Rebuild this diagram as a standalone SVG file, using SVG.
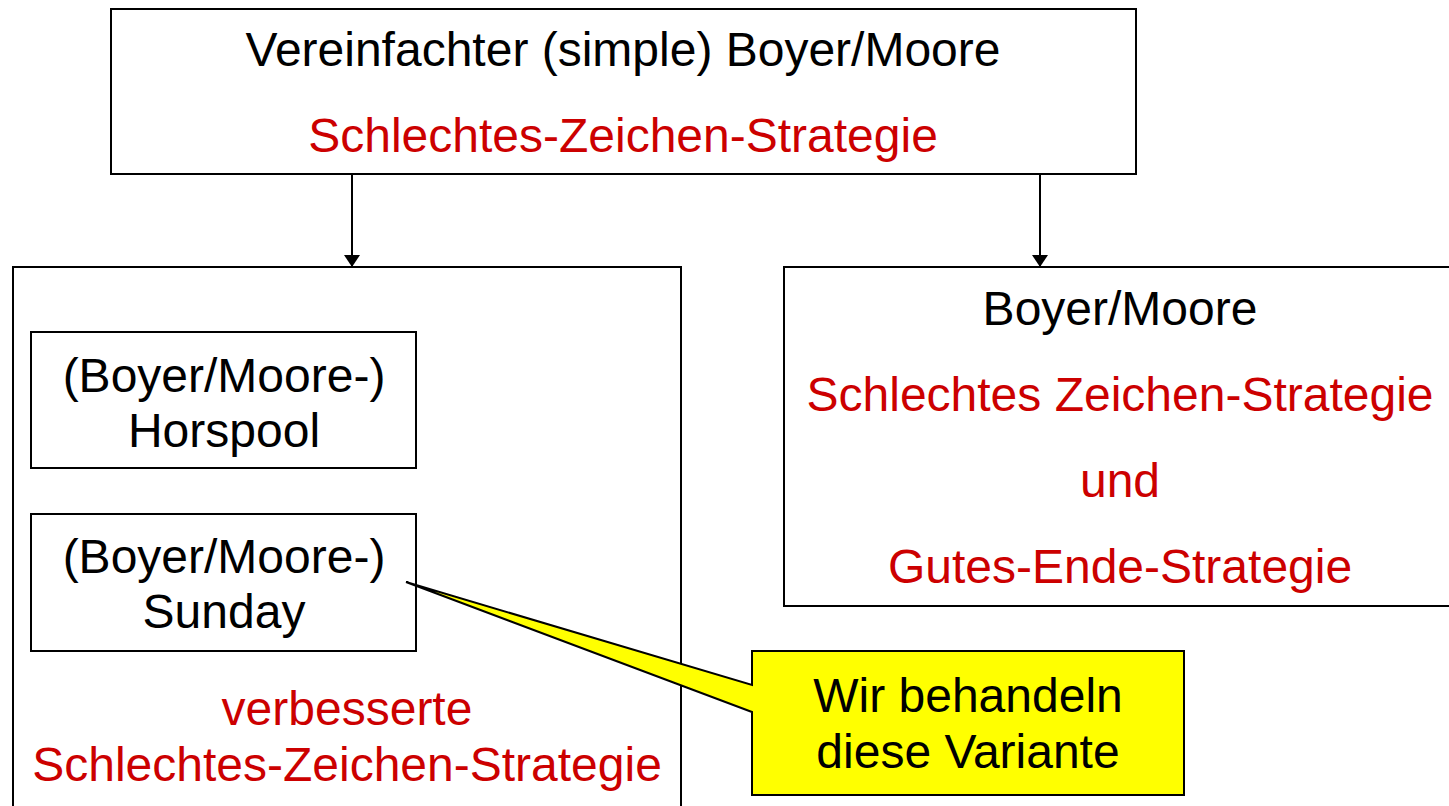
<svg xmlns="http://www.w3.org/2000/svg" width="1449" height="806" viewBox="0 0 1449 806">
<style>
.box{fill:#fff;stroke:#000;stroke-width:2}
.t{font-family:"Liberation Sans",Arial,sans-serif;font-size:48px;text-anchor:middle;fill:#000}
.r{fill:#CC0000}
.con{stroke:#000;stroke-width:2;fill:none}
</style>
<defs>
<marker id="ah" viewBox="0 0 12 16" refX="12" refY="8" markerWidth="12" markerHeight="16" markerUnits="userSpaceOnUse" orient="auto">
<path d="M0,0 L12,8 L0,16 Z" fill="#000"/>
</marker>
</defs>
<rect width="1449" height="806" fill="#fff"/>
<g id="top">
<rect class="box" x="111" y="9" width="1025" height="165"/>
<text class="t" x="623" y="66">Vereinfachter (simple) Boyer/Moore</text>
<text class="t r" x="623" y="152">Schlechtes-Zeichen-Strategie</text>
</g>
<g id="left">
<rect class="box" x="13" y="267" width="668" height="545"/>
<text class="t r" x="347" y="725">verbesserte</text>
<text class="t r" x="347" y="781">Schlechtes-Zeichen-Strategie</text>
</g>
<g id="horspool">
<rect class="box" x="31" y="332" width="385" height="136"/>
<text class="t" x="224" y="392">(Boyer/Moore-)</text>
<text class="t" x="224" y="447">Horspool</text>
</g>
<g id="sunday">
<rect class="box" x="31" y="514" width="385" height="137"/>
<text class="t" x="224" y="573">(Boyer/Moore-)</text>
<text class="t" x="224" y="628">Sunday</text>
</g>
<g id="right">
<rect class="box" x="784" y="267" width="670" height="339"/>
<text class="t" x="1120" y="325">Boyer/Moore</text>
<text class="t r" x="1120" y="411">Schlechtes Zeichen-Strategie</text>
<text class="t r" x="1120" y="497">und</text>
<text class="t r" x="1120" y="583">Gutes-Ende-Strategie</text>
</g>
<g id="callout">
<path d="M752,651 H1184 V795 H752 V712 L406,582 L752,685 Z" fill="#FFFF00" stroke="#000" stroke-width="2" stroke-linejoin="miter"/>
<text class="t" x="968" y="712">Wir behandeln</text>
<text class="t" x="968" y="768">diese Variante</text>
</g>
<g id="connectors">
<line class="con" x1="352" y1="174" x2="352" y2="267" marker-end="url(#ah)"/>
<line class="con" x1="1040" y1="174" x2="1040" y2="267" marker-end="url(#ah)"/>
</g>
</svg>
